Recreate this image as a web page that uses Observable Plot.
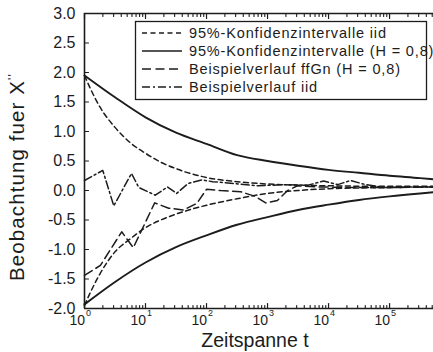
<!DOCTYPE html>
<html><head><meta charset="utf-8">
<script src="https://cdn.jsdelivr.net/npm/d3@7"></script>
<script src="https://cdn.jsdelivr.net/npm/@observablehq/plot@0.6"></script>
<style>
body{margin:0;background:#fff;}
#chart svg{display:block;}
</style></head><body><div id="chart"></div>
<script>
// --- data (x given as log10 of t) ---
const ciLogT   = [0, 0.5, 1, 1.5, 2, 2.5, 3, 3.5, 4, 4.5, 5, 5.5, 5.72];
const ciHUpper = [1.95, 1.58, 1.24, 0.98, 0.79, 0.60, 0.50, 0.42, 0.35, 0.30, 0.25, 0.21, 0.19];
const ciHLower = [-1.93, -1.55, -1.22, -0.96, -0.76, -0.58, -0.45, -0.33, -0.24, -0.16, -0.10, -0.05, -0.03];

const iidLogT  = [0, 0.1, 0.25, 0.5, 0.75, 1, 1.25, 1.5, 2, 2.5, 3, 3.5, 4, 5, 5.72];
const iidUpper = [1.95, 1.72, 1.42, 1.07, 0.81, 0.63, 0.48, 0.37, 0.22, 0.15, 0.11, 0.09, 0.08, 0.07, 0.07];
const iidLower = [-1.95, -1.72, -1.42, -1.04, -0.82, -0.63, -0.50, -0.40, -0.25, -0.14, -0.05, 0.0, 0.03, 0.05, 0.06];

const iidPathLogT = [0, 0.30, 0.48, 0.77, 0.89, 1.16, 1.36, 1.51, 1.70, 1.92, 2.10, 2.44, 2.84, 3.33, 3.66, 3.92, 4.15, 4.36, 4.57, 4.90, 5.34, 5.72];
const iidPath     = [0.17, 0.34, -0.26, 0.29, 0.05, -0.08, 0.06, -0.05, 0.12, 0.18, 0.15, 0.12, 0.08, 0.10, 0.09, 0.16, 0.10, 0.17, 0.11, 0.05, 0.06, 0.06];

const ffgnLogT = [0, 0.26, 0.61, 0.80, 1.15, 1.38, 1.62, 1.84, 2.0, 2.23, 2.56, 2.80, 2.97, 3.16, 3.33, 3.49, 3.87, 4.36, 5.02, 5.72];
const ffgnPath = [-1.44, -1.27, -0.70, -0.97, -0.21, -0.30, -0.33, -0.22, 0.02, 0.0, -0.02, -0.10, -0.21, -0.17, 0.0, 0.08, 0.06, 0.05, 0.05, 0.06];

const xDecades = [0, 1, 2, 3, 4, 5];
const xMaxLog = 5.72;
const yTicks = [-2, -1.5, -1, -0.5, 0, 0.5, 1, 1.5, 2, 2.5, 3];
const yDomain = [-2, 3];

const legendLabels = [
  "95%-Konfidenzintervalle iid",
  "95%-Konfidenzintervalle (H = 0,8)",
  "Beispielverlauf ffGn (H = 0,8)",
  "Beispielverlauf iid"
];
const xLabel = "Zeitspanne t";
const yLabel = "Beobachtung fuer X";

// --- styles ---
const ink = "#1c1c1c";
const font = "'Liberation Sans', Arial, Helvetica, sans-serif";
const dashIidCI = "5,3.5";
const dashFfgn = "9,4.5";
const dashIidPath = "8,3,2,3";

// --- tables ---
const ci = ciLogT.map((k, i) => ({t: 10 ** k, hi: ciHUpper[i], lo: ciHLower[i]}));
const iid = iidLogT.map((k, i) => ({t: 10 ** k, hi: iidUpper[i], lo: iidLower[i]}));
const pIid = iidPathLogT.map((k, i) => ({t: 10 ** k, v: iidPath[i]}));
const pFfgn = ffgnLogT.map((k, i) => ({t: 10 ** k, v: ffgnPath[i]}));
const majors = xDecades.map(d => 10 ** d);
const minors = [];
for (const d of xDecades) for (let m = 2; m <= 9; m++) { const t = m * 10 ** d; if (Math.log10(t) <= xMaxLog) minors.push(t); }

const tickShape = {draw(context, l) { context.moveTo(0, 0); context.lineTo(0, -l); }};

const plot = Plot.plot({
  width: 433, height: 352,
  marginLeft: 84, marginRight: 0, marginTop: 13, marginBottom: 44,
  style: {fontFamily: font, color: ink, background: "#fff", overflow: "visible"},
  x: {type: "log", domain: [1, 10 ** xMaxLog], axis: null},
  y: {domain: yDomain, axis: null},
  marks: [
    // frame (left, bottom, top)
    Plot.ruleX([1], {stroke: ink, strokeWidth: 1.6}),
    Plot.ruleY([yDomain[0], yDomain[1]], {stroke: ink, strokeWidth: 1.6}),
    // inward ticks
    Plot.vector(majors, {x: d => d, y: yDomain[0], length: 5, anchor: "start", rotate: 0, shape: tickShape, stroke: ink, strokeWidth: 1.2}),
    Plot.vector(minors, {x: d => d, y: yDomain[0], length: 3, anchor: "start", rotate: 0, shape: tickShape, stroke: ink, strokeWidth: 1.1}),
    Plot.vector(majors, {x: d => d, y: yDomain[1], length: 5, anchor: "start", rotate: 180, shape: tickShape, stroke: ink, strokeWidth: 1.2}),
    Plot.vector(minors, {x: d => d, y: yDomain[1], length: 3, anchor: "start", rotate: 180, shape: tickShape, stroke: ink, strokeWidth: 1.1}),
    Plot.vector(yTicks, {x: 1, y: d => d, length: 4, anchor: "start", rotate: 90, shape: tickShape, stroke: ink, strokeWidth: 1.1}),
    // y tick labels
    Plot.axisY(yTicks, {tickSize: 0, tickPadding: 9, fontSize: 16, tickFormat: d => d.toFixed(1), label: null, fill: ink}),
    // x tick labels 10^k
    Plot.text(xDecades, {x: d => 10 ** d, y: yDomain[0], text: () => "10", textAnchor: "end", dx: 0.5, dy: 12, fontSize: 14, fill: ink}),
    Plot.text(xDecades, {x: d => 10 ** d, y: yDomain[0], text: d => String(d), textAnchor: "start", dx: 1.5, dy: 5, fontSize: 9, fill: ink}),
    // curves
    Plot.line(ci, {x: "t", y: "hi", stroke: ink, strokeWidth: 1.9, curve: "monotone-x"}),
    Plot.line(ci, {x: "t", y: "lo", stroke: ink, strokeWidth: 1.9, curve: "monotone-x"}),
    Plot.line(iid, {x: "t", y: "hi", stroke: ink, strokeWidth: 1.5, strokeDasharray: dashIidCI, curve: "monotone-x"}),
    Plot.line(iid, {x: "t", y: "lo", stroke: ink, strokeWidth: 1.5, strokeDasharray: dashIidCI, curve: "monotone-x"}),
    Plot.line(pFfgn, {x: "t", y: "v", stroke: ink, strokeWidth: 1.5, strokeDasharray: dashFfgn}),
    Plot.line(pIid, {x: "t", y: "v", stroke: ink, strokeWidth: 1.5, strokeDasharray: dashIidPath})
  ]
});
document.getElementById("chart").appendChild(plot);

// --- legend and axis titles ---
const svg = d3.select(plot);
const lg = svg.append("g").attr("font-family", font).attr("font-size", 14.5).attr("fill", ink)
  .attr("text-anchor", "start");
lg.append("rect").attr("x", 135.5).attr("y", 21.5).attr("width", 291).attr("height", 78)
  .attr("fill", "#fff").attr("stroke", ink).attr("stroke-width", 1.3);
const dashes = [dashIidCI, null, dashFfgn, dashIidPath];
legendLabels.forEach((lab, i) => {
  const yy = 33 + i * 18;
  lg.append("line").attr("x1", 142).attr("x2", 182).attr("y1", yy).attr("y2", yy)
    .attr("stroke", ink).attr("stroke-width", 1.6).attr("stroke-dasharray", dashes[i]);
  lg.append("text").attr("x", 189).attr("y", yy).attr("dy", "0.35em").attr("text-anchor", "start")
    .attr("letter-spacing", "0.85px").text(lab);
});
svg.append("text").attr("x", 255).attr("y", 340).attr("dy", "0.35em")
  .attr("text-anchor", "middle").attr("font-family", font).attr("font-size", 19.5).attr("fill", ink)
  .text(xLabel);
const yl = svg.append("text").attr("transform", "translate(17,177) rotate(-90)").attr("dy", "0.35em")
  .attr("text-anchor", "middle").attr("font-family", font).attr("font-size", 20.5)
  .attr("letter-spacing", "1.1px").attr("fill", ink);
yl.append("tspan").text(yLabel);
yl.append("tspan").attr("font-size", 12).attr("dy", "-0.6em").text("''");
</script></body></html>
